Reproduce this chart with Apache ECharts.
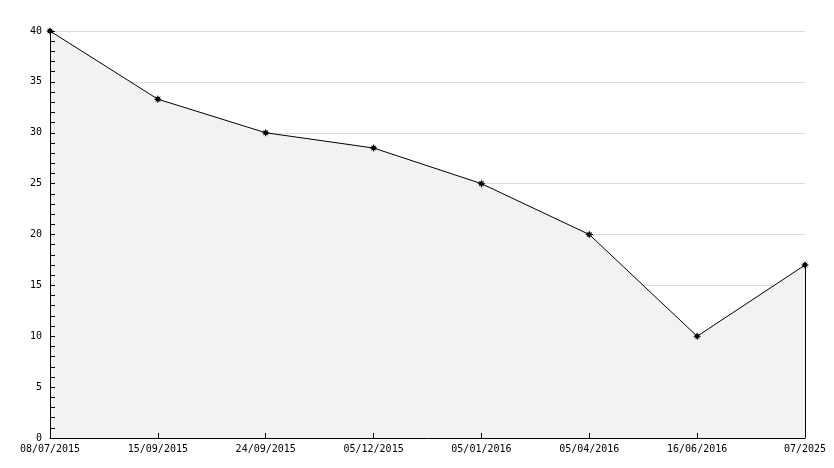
<!DOCTYPE html>
<html><head><meta charset="utf-8">
<script src="https://cdn.jsdelivr.net/npm/echarts@6/dist/echarts.min.js"></script>
<style>html,body{margin:0;padding:0;background:#fff}#c{width:834px;height:468px}</style>
</head><body><div id="c"></div>
<script>
var categories = ['08/07/2015','15/09/2015','24/09/2015','05/12/2015','05/01/2016','05/04/2016','16/06/2016','07/2025'];
var values = [40, 33.3, 30, 28.5, 25, 20, 10, 17];
var yTicks = {min: 0, max: 40, interval: 5};
var lastCat = categories[categories.length - 1];
var lastVal = values[values.length - 1];

var font = 'DejaVu Sans Mono';
var star = 'path://M0,-10L2.5,-4.5L7,-7L4.5,-2.5L10,0L4.5,2.5L7,7L2.5,4.5L0,10L-2.5,4.5L-7,7L-4.5,2.5L-10,0L-4.5,-2.5L-7,-7L-2.5,-4.5Z';
var gridBox = {left: 50, right: 29, top: 31, bottom: 30, containLabel: false};
var chart = echarts.init(document.getElementById('c'));
chart.setOption({
  animation: false,
  backgroundColor: '#fff',
  grid: [Object.assign({}, gridBox), Object.assign({}, gridBox, {z: 10})],
  xAxis: [{
    gridIndex: 0, type: 'category', data: categories, boundaryGap: false,
    axisLine: {show: false}, axisTick: {show: false}, axisLabel: {show: false}, splitLine: {show: false}
  }, {
    gridIndex: 1, type: 'category', data: categories, boundaryGap: false, z: 10,
    axisLine: {lineStyle: {color: '#000', width: 1}},
    axisTick: {inside: true, length: 5, lineStyle: {color: '#000'}},
    axisLabel: {color: '#000', fontFamily: font, fontSize: 10, margin: 6, interval: 0},
    splitLine: {show: false}
  }],
  yAxis: [{
    gridIndex: 0, type: 'value', min: yTicks.min, max: yTicks.max, interval: yTicks.interval,
    axisLine: {show: false}, axisTick: {show: false}, axisLabel: {show: false},
    splitLine: {show: true, lineStyle: {color: '#dddddd', width: 1}}
  }, {
    gridIndex: 1, type: 'value', min: yTicks.min, max: yTicks.max, interval: yTicks.interval, z: 10,
    axisLine: {show: true, lineStyle: {color: '#000', width: 1}},
    axisTick: {show: true, inside: true, length: 5, lineStyle: {color: '#000'}},
    minorTick: {show: true, splitNumber: 5, length: 5, lineStyle: {color: '#000'}},
    axisLabel: {color: '#000', fontFamily: font, fontSize: 10, margin: 8},
    splitLine: {show: false}
  }],
  series: [{
    type: 'line', data: values, xAxisIndex: 0, yAxisIndex: 0,
    symbol: star, symbolSize: 8, showAllSymbol: true,
    itemStyle: {color: '#000'},
    lineStyle: {color: '#000', width: 1},
    areaStyle: {color: '#f2f2f2', opacity: 1},
    markLine: {
      silent: true, symbol: ['none', 'none'], label: {show: false},
      lineStyle: {color: '#000', width: 1, type: 'solid'},
      data: [[{coord: [lastCat, 0]}, {coord: [lastCat, lastVal]}]]
    }
  }]
});
</script></body></html>
